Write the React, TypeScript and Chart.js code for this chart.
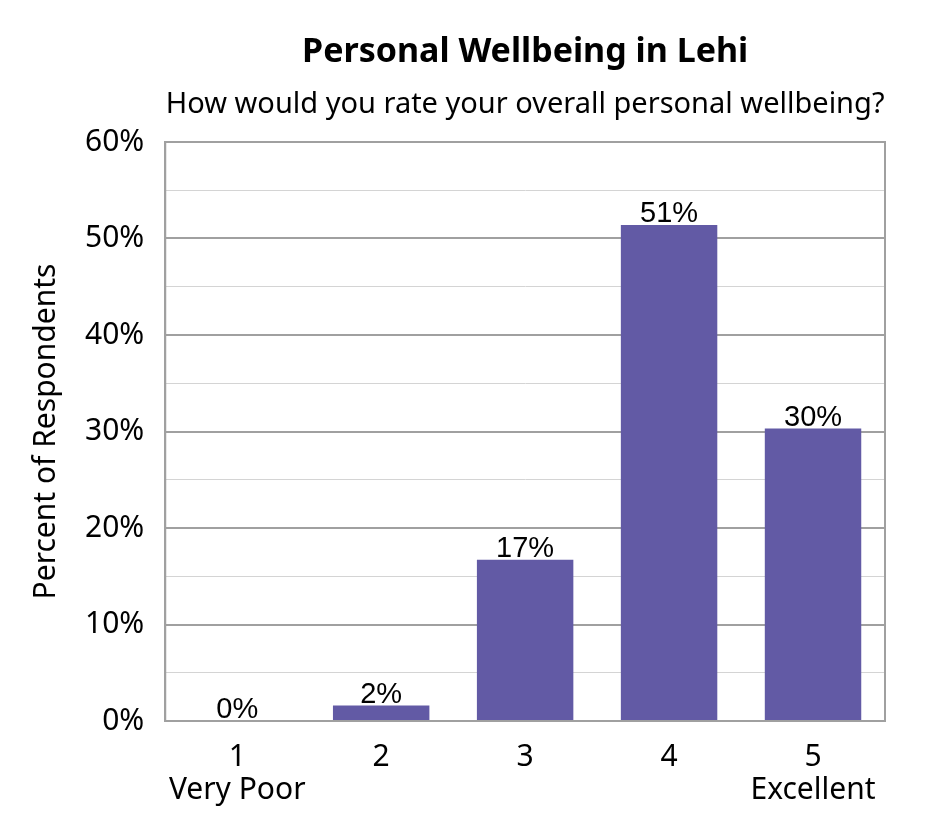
import { Chart, registerables } from 'chart.js';
import type { Plugin } from 'chart.js';
import { useEffect, useRef } from 'react';

Chart.register(...registerables);

const title = 'Personal Wellbeing in Lehi';
const subtitle = 'How would you rate your overall personal wellbeing?';
const categories = [['1', 'Very Poor'], ['2', ''], ['3', ''], ['4', ''], ['5', 'Excellent']];
const percents = [0, 1.6, 16.7, 51.4, 30.3];
const valueLabels = ['0%', '2%', '17%', '51%', '30%'];
const yAxisTitle = 'Percent of Respondents';

const FONT = '"Noto Sans", sans-serif';

// titles centred over the plot area, plus the frame and the bar labels
const extras: Plugin<'bar'> = {
    id: 'extras',
    afterDraw(chart) {
        const { ctx, chartArea } = chart;
        const mid = (chartArea.left + chartArea.right) / 2;
        ctx.save();
        ctx.strokeStyle = '#a0a0a0';
        ctx.lineWidth = 2;
        ctx.strokeRect(chartArea.left, chartArea.top, chartArea.right - chartArea.left, chartArea.bottom - chartArea.top);

        ctx.fillStyle = '#000';
        ctx.textAlign = 'center';
        ctx.textBaseline = 'alphabetic';
        ctx.font = `bold 34px ${FONT}`;
        ctx.fillText(title, mid, 62);
        ctx.font = `29px ${FONT}`;
        ctx.fillText(subtitle, mid, 113);

        ctx.font = '29px "Liberation Sans", Arial, sans-serif';
        const meta = chart.getDatasetMeta(0);
        meta.data.forEach((bar, i) => {
            ctx.fillText(valueLabels[i], bar.x, bar.y - 3);
        });
        ctx.restore();
    },
};

const App = () => {
    const chartRef = useRef<HTMLCanvasElement | null>(null);
    const chartInstance = useRef<Chart<'bar'> | null>(null);

    useEffect(() => {
        if (!chartRef.current) return;
        const ctx = chartRef.current.getContext('2d');
        if (!ctx) return;
        if (chartInstance.current) chartInstance.current.destroy();

        chartInstance.current = new Chart(ctx, {
            type: 'bar',
            data: {
                labels: categories,
                datasets: [
                    {
                        data: percents,
                        backgroundColor: '#625aa5',
                        barPercentage: 0.67,
                        categoryPercentage: 1,
                    },
                ],
            },
            options: {
                animation: false,
                responsive: false,
                maintainAspectRatio: false,
                layout: { padding: { top: 142, right: 60, bottom: 21, left: 28 } },
                plugins: {
                    legend: { display: false },
                    title: { display: false },
                    tooltip: { enabled: false },
                },
                scales: {
                    x: {
                        grid: { display: false },
                        border: { color: '#a0a0a0', width: 2 },
                        ticks: {
                            color: '#000',
                            font: { family: FONT, size: 30, lineHeight: 1.1 },
                            padding: 12,
                            maxRotation: 0,
                        },
                    },
                    y: {
                        min: 0,
                        max: 60,
                        border: { color: '#a0a0a0', width: 2 },
                        grid: {
                            drawTicks: false,
                            color: (c) => (c.tick && c.tick.value % 10 === 0 ? '#a0a0a0' : '#d4d4d4'),
                            lineWidth: (c) => (c.tick && c.tick.value % 10 === 0 ? 2 : 1),
                        },
                        ticks: {
                            stepSize: 5,
                            color: '#000',
                            padding: 21,
                            autoSkip: false,
                            font: { family: FONT, size: 30 },
                            callback: (v) => (Number(v) % 10 === 0 ? `${v}%` : ''),
                        },
                        title: {
                            display: true,
                            text: yAxisTitle,
                            color: '#000',
                            font: { family: FONT, size: 30 },
                            padding: { top: 0, bottom: 0 },
                        },
                    },
                },
            },
            plugins: [extras],
        });

        return () => {
            if (chartInstance.current) {
                chartInstance.current.destroy();
                chartInstance.current = null;
            }
        };
    }, []);

    return (
        <div style={{ position: 'fixed', left: 0, top: 0, width: 945, height: 840, background: '#fff' }}>
            <canvas ref={chartRef} width={945} height={840} />
        </div>
    );
};

export default App;
